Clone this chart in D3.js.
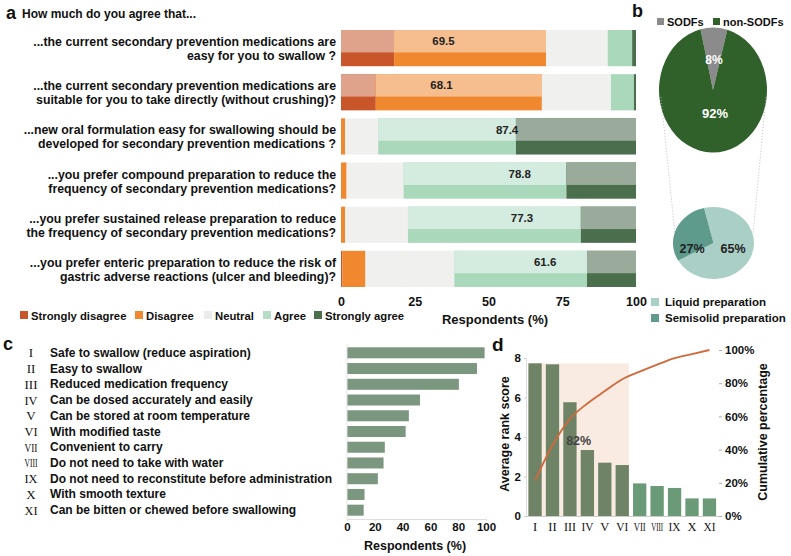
<!DOCTYPE html>
<html>
<head>
<meta charset="utf-8">
<script src="https://cdn.jsdelivr.net/npm/d3@7"></script>
<style>
body { margin: 0; background: #fff; }
text { font-family: "Liberation Sans", Arial, sans-serif; font-weight: bold; fill: #111; }
.serif { font-family: "Liberation Serif", "Times New Roman", serif; font-weight: normal; }
</style>
</head>
<body>
<svg id="fig" width="791" height="556"></svg>
<script>
// ---- panel a data ----
var questions = [
    ["...the current secondary prevention medications are", "easy for you to swallow ?"],
    ["...the current secondary prevention medications are", "suitable for you to take directly (without crushing)?"],
    ["...new oral formulation easy for swallowing should be", "developed for secondary prevention medications ?"],
    ["...you prefer compound preparation to reduce the", "frequency of secondary prevention medications?"],
    ["...you prefer sustained release preparation to reduce", "the frequency of secondary prevention medications?"],
    ["...you prefer enteric preparation to reduce the risk of", "gastric adverse reactions (ulcer and bleeding)?"]
];
var levels = ["Strongly disagree", "Disagree", "Neutral", "Agree", "Strongly agree"];
var stronglyDisagree = [18.0, 11.8, 0, 0, 0, 0.5];
var disagree = [51.5, 56.3, 1.4, 1.9, 1.4, 7.8];
var neutral = [20.9, 23.4, 11.2, 19.3, 21.3, 30.1];
var agree = [8.3, 7.8, 46.7, 55.2, 58.6, 45.0];
var stronglyAgree = [1.3, 0.7, 40.7, 23.6, 18.7, 16.6];
var highlightSide = ["disagree", "disagree", "agree", "agree", "agree", "agree"];
var axisTicksA = [0, 25, 50, 75, 100];

// ---- panel b data ----
var sodfLabels = ["SODFs", "non-SODFs"];
var sodfValues = [8, 92];
var prepLabels = ["Liquid preparation", "Semisolid preparation"];
var prepValues = [65, 27];

// ---- panel c / d data ----
var romans = ["I", "II", "III", "IV", "V", "VI", "VII", "VIII", "IX", "X", "XI"];
var attributes = [
    "Safe to swallow (reduce aspiration)",
    "Easy to swallow",
    "Reduced medication frequency",
    "Can be dosed accurately and easily",
    "Can be stored at room temperature",
    "With modified taste",
    "Convenient to carry",
    "Do not need to take with water",
    "Do not need to reconstitute before administration",
    "With smooth texture",
    "Can be bitten or chewed before swallowing"
];
var respondentsPct = [99, 93.5, 80.5, 52.5, 44.5, 42.2, 27.2, 26.3, 22.2, 12.6, 12];
var rankScore = [7.73, 7.68, 5.76, 3.34, 2.70, 2.58, 1.65, 1.52, 1.42, 0.89, 0.89];

var svg = d3.select("#fig");

// squeeze long roman numerals horizontally (text sits at x=0 of its group)
function squeeze(sel, maxW) {
    sel.each(function () {
        var w = this.getComputedTextLength();
        if (w > maxW) {
            d3.select(this).attr("transform", "scale(" + (maxW / w) + ",1)");
        }
    });
}

// =============== panel a ===============
var colors = {
    "Strongly disagree": "#c9552b",
    "Disagree": "#f0882f",
    "Neutral": "#f0f0ee",
    "Agree": "#a9d8bb",
    "Strongly agree": "#4b6e4c"
};
var lightColors = {
    "Strongly disagree": "#dfa38c",
    "Disagree": "#f6be8e",
    "Agree": "#d4ecdf",
    "Strongly agree": "#9aab9b"
};
var rows = questions.map(function (q, i) {
    return {
        row: i,
        "Strongly disagree": stronglyDisagree[i],
        "Disagree": disagree[i],
        "Neutral": neutral[i],
        "Agree": agree[i],
        "Strongly agree": stronglyAgree[i]
    };
});
var stacked = d3.stack().keys(levels)(rows);

var xA = d3.scaleLinear().domain([0, 100]).range([341, 636]);
var yA = d3.scaleBand().domain(d3.range(questions.length)).range([30, 287]).paddingInner(0.18).paddingOuter(0);
var upperFrac = 0.62;

svg.append("text").attr("x", 6).attr("y", 19).style("font-size", "18px").text("a");
svg.append("text").attr("x", 22).attr("y", 18).style("font-size", "12px").text("How much do you agree that...");

stacked.forEach(function (layer) {
    var key = layer.key;
    var g = svg.append("g");
    g.selectAll("rect.base")
        .data(layer)
        .enter()
        .append("rect")
        .attr("x", function (d) { return xA(d[0]); })
        .attr("y", function (d, i) { return yA(i); })
        .attr("width", function (d) { return xA(d[1]) - xA(d[0]); })
        .attr("height", yA.bandwidth())
        .attr("fill", colors[key]);
    var side = (key === "Strongly disagree" || key === "Disagree") ? "disagree" :
        (key === "Agree" || key === "Strongly agree") ? "agree" : "none";
    g.selectAll("rect.hi")
        .data(layer.filter(function (d, i) { return highlightSide[i] === side; }))
        .enter()
        .append("rect")
        .attr("x", function (d) { return xA(d[0]); })
        .attr("y", function (d) { return yA(d.data.row); })
        .attr("width", function (d) { return xA(d[1]) - xA(d[0]); })
        .attr("height", yA.bandwidth() * upperFrac)
        .attr("fill", lightColors[key]);
});

// highlighted totals
rows.forEach(function (r, i) {
    var lo, hi, total;
    if (highlightSide[i] === "disagree") {
        lo = 0; hi = r["Strongly disagree"] + r["Disagree"]; total = hi;
    } else {
        total = r["Agree"] + r["Strongly agree"]; lo = 100 - total; hi = 100;
    }
    svg.append("text")
        .attr("x", (xA(lo) + xA(hi)) / 2)
        .attr("y", yA(i) + yA.bandwidth() * upperFrac / 2 + 4)
        .attr("text-anchor", "middle")
        .style("font-size", "11.5px")
        .style("fill", "#222")
        .text(total.toFixed(1));
});

// question labels
questions.forEach(function (q, i) {
    var cy = yA(i) + yA.bandwidth() / 2;
    svg.append("text")
        .attr("x", 336)
        .attr("y", cy - 2)
        .attr("text-anchor", "end")
        .style("font-size", "12.3px")
        .text(q[0]);
    svg.append("text")
        .attr("x", 336)
        .attr("y", cy + 12)
        .attr("text-anchor", "end")
        .style("font-size", "12.3px")
        .text(q[1]);
});

var axA = svg.append("g")
    .attr("transform", "translate(0,293)")
    .call(d3.axisBottom(xA).tickValues(axisTicksA).tickSize(0).tickPadding(4));
axA.select(".domain").remove();
axA.selectAll("text").style("font-size", "12.5px").style("font-family", "Liberation Sans, Arial, sans-serif").style("font-weight", "bold").attr("fill", "#111");
svg.append("text").attr("x", 495).attr("y", 324).attr("text-anchor", "middle").style("font-size", "13px").text("Respondents (%)");

// legend a
var legPos = [20, 135, 204, 263, 314];
levels.forEach(function (lv, i) {
    var sq = lv === "Neutral" ? "#ececec" : (lv === "Agree" ? "#b5dcc4" : colors[lv]);
    svg.append("rect").attr("x", legPos[i]).attr("y", 311).attr("width", 8).attr("height", 8).attr("fill", sq);
    svg.append("text").attr("x", legPos[i] + 11).attr("y", 320).style("font-size", "11.3px").text(lv);
});

// =============== panel b ===============
svg.append("text").attr("x", 632).attr("y", 17).style("font-size", "18px").text("b");
var sodfColors = ["#8b8b8b", "#30612a"];
var legB = [657, 713];
sodfLabels.forEach(function (lab, i) {
    svg.append("rect").attr("x", legB[i]).attr("y", 18).attr("width", 7).attr("height", 7).attr("fill", sodfColors[i]);
    svg.append("text").attr("x", legB[i] + 10).attr("y", 26).style("font-size", "11px").text(lab);
});

var bigR = 54, bigRy = 62.5, bigC = [713, 90];
var pieBig = d3.pie().sort(null).startAngle(-13.4 * Math.PI / 180).endAngle(346.6 * Math.PI / 180)(sodfValues);
var arcBig = d3.arc().innerRadius(0).outerRadius(bigR);
var gBig = svg.append("g").attr("transform", "translate(" + bigC[0] + "," + bigC[1] + ") scale(1," + (bigRy / bigR) + ")");
gBig.selectAll("path").data(pieBig).enter().append("path")
    .attr("d", arcBig)
    .attr("fill", function (d, i) { return sodfColors[i]; });
svg.append("text").attr("x", 714).attr("y", 64).attr("text-anchor", "middle").style("font-size", "12px").style("fill", "#fff").text(sodfValues[0] + "%");
svg.append("text").attr("x", 715).attr("y", 118).attr("text-anchor", "middle").style("font-size", "13px").style("fill", "#fff").text(sodfValues[1] + "%");

// connector lines
svg.append("line").attr("x1", 661).attr("y1", 97).attr("x2", 675).attr("y2", 234)
    .attr("stroke", "#aaa").attr("stroke-width", 0.8).attr("stroke-dasharray", "1,2");
svg.append("line").attr("x1", 766).attr("y1", 97).attr("x2", 753).attr("y2", 234)
    .attr("stroke", "#aaa").attr("stroke-width", 0.8).attr("stroke-dasharray", "1,2");

var prepColors = ["#aacfc6", "#5f9b8d"];
var smR = 40.5, smRy = 36, smC = [713.5, 243];
var pieSmall = d3.pie().sort(null).startAngle(-13.6 * Math.PI / 180).endAngle(346.4 * Math.PI / 180)(prepValues);
var arcSmall = d3.arc().innerRadius(0).outerRadius(smR);
var gSmall = svg.append("g").attr("transform", "translate(" + smC[0] + "," + smC[1] + ") scale(1," + (smRy / smR) + ")");
gSmall.selectAll("path").data(pieSmall).enter().append("path")
    .attr("d", arcSmall)
    .attr("fill", function (d, i) { return prepColors[i]; });
svg.append("text").attr("x", 733).attr("y", 253).attr("text-anchor", "middle").style("font-size", "12.5px").style("fill", "#222").text(prepValues[0] + "%");
svg.append("text").attr("x", 692).attr("y", 253).attr("text-anchor", "middle").style("font-size", "12.5px").style("fill", "#222").text(prepValues[1] + "%");

prepLabels.forEach(function (lab, i) {
    svg.append("rect").attr("x", 651).attr("y", 298 + i * 16).attr("width", 8).attr("height", 8).attr("fill", prepColors[i]);
    svg.append("text").attr("x", 665).attr("y", 306 + i * 16).style("font-size", "11.5px").text(lab);
});

// =============== panel c ===============
svg.append("text").attr("x", 3).attr("y", 350).style("font-size", "18px").text("c");
var yC = d3.scaleBand().domain(romans).range([347.3, 515.7]).paddingInner(0.3).paddingOuter(0);
var xC = d3.scaleLinear().domain([0, 100]).range([347, 486]);
romans.forEach(function (r, i) {
    var cy = yC(r) + yC.bandwidth() / 2;
    svg.append("g").attr("transform", "translate(31," + (cy + 4.5) + ")")
        .append("text").attr("class", "serif roman-c")
        .attr("text-anchor", "middle").style("font-size", "13px").text(r);
    svg.append("text").attr("x", 50).attr("y", cy + 4).style("font-size", "12px").text(attributes[i]);
});
squeeze(svg.selectAll(".roman-c"), 13);
svg.selectAll("rect.cbar")
    .data(respondentsPct)
    .enter()
    .append("rect")
    .attr("class", "cbar")
    .attr("x", xC(0))
    .attr("y", function (d, i) { return yC(romans[i]); })
    .attr("width", function (d) { return xC(d) - xC(0); })
    .attr("height", yC.bandwidth())
    .attr("fill", "#7b977f");
var axC = svg.append("g")
    .attr("transform", "translate(0,519)")
    .call(d3.axisBottom(xC).tickValues([0, 20, 40, 60, 80, 100]).tickSize(2).tickPadding(2));
axC.select(".domain").attr("stroke", "#ddd");
axC.selectAll("line").attr("stroke", "#ddd");
axC.selectAll("text").style("font-size", "11.5px").style("font-family", "Liberation Sans, Arial, sans-serif").style("font-weight", "bold").attr("fill", "#111");
svg.append("line").attr("x1", 347).attr("x2", 347).attr("y1", 344).attr("y2", 519).attr("stroke", "#e4e4e4");
svg.append("text").attr("x", 415).attr("y", 550).attr("text-anchor", "middle").style("font-size", "12.5px").text("Respondents (%)");

// =============== panel d ===============
svg.append("text").attr("x", 492).attr("y", 351).style("font-size", "19px").text("d");
var xD = d3.scaleBand().domain(romans).range([526, 718.5]).paddingInner(0.237).paddingOuter(0.138);
var yD = d3.scaleLinear().domain([0, 8]).range([516, 358]);
var yPct = d3.scaleLinear().domain([0, 100]).range([516, 350]);
var topCount = 6;

var total = d3.sum(rankScore);
var cum = d3.cumsum(rankScore).map(function (v) { return v / total * 100; });

svg.append("rect")
    .attr("x", xD(romans[0]))
    .attr("y", yD(d3.max(rankScore)))
    .attr("width", xD(romans[topCount - 1]) + xD.bandwidth() - xD(romans[0]))
    .attr("height", yD(0) - yD(d3.max(rankScore)))
    .attr("fill", "#f9ebe2");

svg.selectAll("rect.dbar")
    .data(rankScore)
    .enter()
    .append("rect")
    .attr("class", "dbar")
    .attr("x", function (d, i) { return xD(romans[i]); })
    .attr("y", function (d) { return yD(d); })
    .attr("width", xD.bandwidth())
    .attr("height", function (d) { return yD(0) - yD(d); })
    .attr("fill", function (d, i) { return i < topCount ? "#6f8467" : "#6a9a78"; });

svg.append("path")
    .datum(cum)
    .attr("fill", "none")
    .attr("stroke", "#d0693a")
    .attr("stroke-width", 1.8)
    .attr("d", d3.line()
        .x(function (d, i) { return xD(romans[i]) + xD.bandwidth() / 2; })
        .y(function (d) { return yPct(d); })
        .curve(d3.curveMonotoneX));

svg.append("text")
    .attr("x", xD(romans[0]) + (xD(romans[topCount - 1]) + xD.bandwidth() - xD(romans[0])) / 2)
    .attr("y", yD(3.85) + 5)
    .attr("text-anchor", "middle")
    .style("font-size", "12.5px")
    .style("fill", "#444")
    .text(Math.round(cum[topCount - 1]) + "%");

var axDL = svg.append("g")
    .attr("transform", "translate(526,0)")
    .call(d3.axisLeft(yD).tickValues([0, 2, 4, 6, 8]).tickSize(2).tickPadding(3));
axDL.select(".domain").attr("stroke", "#ddd");
axDL.selectAll("line").attr("stroke", "#ccc");
axDL.selectAll("text").style("font-size", "11.5px").style("font-family", "Liberation Sans, Arial, sans-serif").style("font-weight", "bold").attr("fill", "#111");

var axDR = svg.append("g")
    .attr("transform", "translate(719,0)")
    .call(d3.axisRight(yPct).tickValues([0, 20, 40, 60, 80, 100]).tickSize(3).tickPadding(3)
        .tickFormat(function (d) { return d + "%"; }));
axDR.select(".domain").remove();
axDR.selectAll("line").attr("stroke", "#aaa");
axDR.selectAll("text").style("font-size", "11.5px").style("font-family", "Liberation Sans, Arial, sans-serif").style("font-weight", "bold").attr("fill", "#111");

var axDB = svg.append("g")
    .attr("transform", "translate(0,516)")
    .call(d3.axisBottom(xD).tickSize(0).tickPadding(6));
axDB.select(".domain").attr("stroke", "#ccc");
axDB.selectAll("text").attr("class", "serif").style("font-size", "12.5px").attr("fill", "#111");
squeeze(axDB.selectAll("text"), 12);

svg.append("text")
    .attr("transform", "translate(509,434) rotate(-90)")
    .attr("text-anchor", "middle")
    .style("font-size", "12.5px")
    .text("Average rank score");
svg.append("text")
    .attr("transform", "translate(767,432) rotate(-90)")
    .attr("text-anchor", "middle")
    .style("font-size", "12.5px")
    .text("Cumulative percentage");
</script>
</body>
</html>
